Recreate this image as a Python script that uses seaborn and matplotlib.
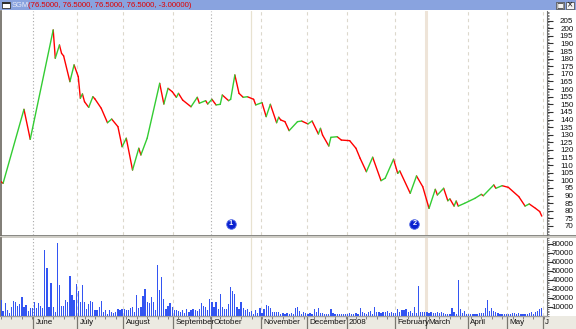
import numpy as np
import pandas as pd
import matplotlib
matplotlib.use("Agg")
import matplotlib.pyplot as plt
from matplotlib.patches import Rectangle
from matplotlib.ticker import MultipleLocator, NullLocator
import seaborn as sns

# ---------------- data ----------------
ticker = "SGM"
price_day = [0, 1, 11, 14, 25, 26, 28, 29, 30, 33, 35, 37, 38, 39, 40, 42, 44, 45, 48, 51,
             53, 56, 58, 60, 63, 66, 67, 70, 76, 78, 80, 82, 84, 85, 87, 91, 94, 95, 98, 99,
             101, 103, 105, 106, 109, 110, 112, 114, 116, 118, 121, 122, 125, 127, 129, 132,
             133, 134, 136, 138, 142, 144, 147, 149, 152, 153, 154, 157, 158, 161, 163, 167,
             170, 172, 175, 178, 182, 184, 188, 190, 191, 196, 199, 202, 205, 208, 209, 212,
             214, 215, 217, 218, 219, 222, 227, 230, 231, 236, 237, 240, 243, 248, 251, 253,
             256, 258, 259]
price_close = [99.1, 98.1, 146.7, 127.0, 198.9, 180.3, 189.0, 183.5, 181.8, 164.9, 175.9, 168.2,
               154.0, 156.8, 151.7, 148.0, 155.0, 153.5, 147.4, 137.9, 140.3, 135.3, 122.1, 127.7,
               106.8, 121.1, 116.7, 127.7, 163.8, 150.2, 160.5, 158.3, 154.6, 157.2, 152.8, 148.4,
               154.6, 150.7, 152.4, 150.2, 153.3, 149.6, 150.0, 156.1, 152.4, 153.3, 169.3, 157.2,
               154.6, 155.0, 153.3, 149.6, 151.1, 141.9, 150.0, 137.9, 141.5, 139.7, 138.6, 132.7,
               138.6, 139.0, 137.1, 139.0, 130.5, 134.2, 129.8, 122.6, 128.3, 128.7, 126.5, 126.1,
               121.1, 114.5, 105.7, 115.2, 99.8, 101.4, 113.9, 104.6, 106.2, 91.5, 102.9, 95.8,
               81.6, 94.1, 90.4, 94.8, 86.6, 87.8, 83.1, 86.4, 83.1, 84.9, 88.2, 90.8, 89.9, 97.0,
               94.8, 96.5, 95.4, 89.3, 83.1, 84.5, 81.6, 79.5, 76.5]
volume = [17700, 5500, 14700, 6600, 2900, 9600, 16600, 15800, 11000, 13300,
          21400, 9600, 12200, 5900, 9200, 9200, 15800, 8500, 14000, 11000,
          8500, 72900, 52700, 9600, 36100, 9600, 4800, 80300, 34300, 11000,
          11000, 17700, 15800, 44200, 23200, 17700, 35400, 28000, 15800, 34300,
          15800, 7700, 13300, 16600, 15800, 6600, 6600, 10300, 16600, 4800,
          6600, 2200, 6600, 4800, 2900, 4800, 7700, 6600, 7700, 7700,
          6600, 6600, 8500, 9600, 4800, 23200, 8500, 9600, 22100, 29500,
          15800, 14000, 21400, 15800, 6600, 56300, 28700, 43500, 18400, 7700,
          11000, 14700, 10300, 6600, 6600, 5900, 4800, 6600, 2900, 7400,
          4800, 6600, 7700, 6600, 5900, 7400, 14700, 11000, 9600, 6600,
          18400, 15100, 10300, 15100, 7400, 24300, 9600, 7700, 7400, 13300,
          31700, 27600, 24300, 9600, 7700, 15800, 8500, 6600, 7400, 4800,
          5500, 2200, 6600, 3000, 8500, 3000, 7400, 12200, 11000, 9200,
          4800, 4800, 4800,
          4800, 2200, 2900, 2200, 2900, 2200, 2900, 2200, 8500, 9600,
          5900, 2200, 4800, 2900, 2200, 3700, 2200, 7700, 4800, 9200,
          2900, 3700, 2200, 2200, 2200, 7700, 2900, 2200, 2200, 2200,
          2200, 2200, 2200, 2200, 2900, 2200, 2200, 2900, 2200, 8500,
          4000, 2900, 2200, 4800, 5500, 2200, 9600, 4800, 4000, 3700,
          4800, 4000, 5500, 3700, 4800, 3700, 2900, 7400, 4000, 6600,
          6600, 7700, 4800, 5500, 3700, 10300, 2900, 33100, 4800, 4800,
          4800, 4800, 2900, 4800, 2900, 3700, 4800, 2900, 4800, 2900,
          2200, 2200, 2200, 8500, 4800, 2200, 39800, 7700, 2900, 5500,
          2200, 2200, 2200, 2200, 2200, 2200, 2900, 3700, 2900, 9200,
          17700, 5500, 9200, 5500, 4800, 2900, 2200, 2200, 2200, 2200,
          2200, 2200, 2900, 2900, 2200, 2900, 2200, 2200, 2200, 2200,
          2900, 4800, 2200, 4000, 5500, 7400, 9200]
month_start_day = [16, 37, 59, 83, 101, 125, 147, 166, 189, 204, 224, 243, 260]
month_labels = ["June", "July", "August", "September", "October", "November", "December",
                "2008", "February", "March", "April", "May", "J"]
price_ticks = list(range(70, 206, 5))
volume_ticks = list(range(10000, 80001, 10000))
event_day = [110, 198]
event_label = ["1", "2"]
marker_line_day = [119.5, 203.5]
last_change = -3.0

# ---------------- figure ----------------
sns.set_style("white")
plt.rcParams["font.family"] = ["Liberation Sans", "DejaVu Sans"]

W, H = 576, 329
fig = plt.figure(figsize=(W / 100, H / 100), dpi=100)
fig.patch.set_facecolor("white")


def frect(x0, top, x1, bottom):
    return [x0 / W, 1 - bottom / H, (x1 - x0) / W, (bottom - top) / H]


ax_t = fig.add_axes(frect(0, 0, W, 10))
ax_p = fig.add_axes(frect(1, 11, 547, 235))
ax_v = fig.add_axes(frect(1, 238, 547, 316))

# bottom strip + separator band
fig.patches.append(Rectangle((0, 0), 1, 13 / H, transform=fig.transFigure,
                             facecolor="#eceae2", edgecolor="none", zorder=-5))
fig.patches.append(Rectangle((0, 1 - 238 / H), 1, 3 / H, transform=fig.transFigure,
                             facecolor="#cfcdc6", edgecolor="none", zorder=-5))
fig.patches.append(Rectangle((0, 1 - 235.6 / H), 1, 1.0 / H, transform=fig.transFigure,
                             facecolor="#8a8a86", edgecolor="none", zorder=-4))

xmin, xmax = 0, 261.5

# ---------------- price panel ----------------
rows = []
for i in range(len(price_day) - 1):
    d = "up" if price_close[i + 1] >= price_close[i] else "down"
    rows.append((i, price_day[i], price_close[i], d))
    rows.append((i, price_day[i + 1], price_close[i + 1], d))
seg = pd.DataFrame(rows, columns=["seg", "day", "price", "dir"])
sns.lineplot(data=seg, x="day", y="price", hue="dir", units="seg", estimator=None,
             palette={"up": "#33cc33", "down": "#ff0000"}, linewidth=1.0,
             legend=False, sort=False, ax=ax_p, zorder=5)

for k, m in enumerate(month_start_day):
    if k in (0, 4):
        ax_p.axvline(m - 0.5, color="#a8a8a8", lw=0.8, ls=(0, (1, 2)), zorder=1)
    else:
        ax_p.axvline(m - 0.5, color="#dcd8cc", lw=0.8, ls=(0, (3, 3)), zorder=1)
ax_p.axvline(marker_line_day[0], color="#e8e2d0", lw=0.9, zorder=1)
ax_p.axvline(marker_line_day[1], color="#eee4d8", lw=2.2, zorder=1)

ax_p.scatter(event_day, [0.05] * len(event_day), transform=ax_p.get_xaxis_transform(),
             s=48, color="#0a22d0", edgecolor="#5a70e8", linewidth=0.6, zorder=6)
for d, lab in zip(event_day, event_label):
    ax_p.text(d, 0.05, lab, transform=ax_p.get_xaxis_transform(), color="white",
              fontsize=5.2, fontweight="bold", ha="center", va="center", zorder=7)

ax_p.set_xlim(xmin, xmax)
ax_p.set_ylim(64.08, 211.35)
ax_p.yaxis.tick_right()
ax_p.set_yticks(price_ticks, labels=[str(v) for v in price_ticks], ha="right")
ax_p.yaxis.set_minor_locator(MultipleLocator(1))
ax_p.tick_params(axis="y", which="major", length=4, width=0.8, color="#303030",
                 labelsize=5.8, pad=15, labelcolor="#111111", right=True, left=False)
ax_p.tick_params(axis="y", which="minor", length=1.6, width=0.5, color="#505050",
                 right=True, left=False)
ax_p.xaxis.set_major_locator(NullLocator())
ax_p.set_xlabel("")
ax_p.set_ylabel("")
for s in ("top", "bottom"):
    ax_p.spines[s].set_visible(False)
ax_p.spines["left"].set_color("#6a665e")
ax_p.spines["left"].set_linewidth(1.2)
ax_p.spines["right"].set_color("#707070")
ax_p.spines["right"].set_linewidth(0.8)

# ---------------- volume panel ----------------
vol_day = np.arange(len(volume))
sns.barplot(x=vol_day, y=volume, native_scale=True, color="#3355f2", width=0.6,
            saturation=1, errorbar=None, linewidth=0, ax=ax_v, zorder=4)

for k, m in enumerate(month_start_day):
    if k in (0, 4):
        ax_v.axvline(m - 0.5, color="#a8a8a8", lw=0.8, ls=(0, (1, 2)), zorder=1)
    else:
        ax_v.axvline(m - 0.5, color="#dcd8cc", lw=0.8, ls=(0, (3, 3)), zorder=1)
    ax_v.vlines(m - 0.5, -13 / 78, 0, transform=ax_v.get_xaxis_transform(),
                color="#7a7870", lw=0.9, clip_on=False)
    ax_v.text(m - 0.5 + 1.2, -0.085, month_labels[k], transform=ax_v.get_xaxis_transform(),
              fontsize=5.8, color="#111111", ha="left", va="center", clip_on=False)
ax_v.axvline(marker_line_day[0], color="#e8e2d0", lw=0.9, zorder=1)
ax_v.axvline(marker_line_day[1], color="#eee4d8", lw=2.2, zorder=1)

ax_v.set_xlim(xmin, xmax)
ax_v.set_ylim(0, 86200)
ax_v.yaxis.tick_right()
ax_v.set_yticks(volume_ticks, labels=[str(v) for v in volume_ticks], ha="right")
ax_v.yaxis.set_minor_locator(MultipleLocator(2000))
ax_v.tick_params(axis="y", which="major", length=4, width=0.8, color="#303030",
                 labelsize=5.8, pad=15, labelcolor="#111111", right=True, left=False)
ax_v.tick_params(axis="y", which="minor", length=1.6, width=0.5, color="#505050",
                 right=True, left=False)
ax_v.xaxis.set_major_locator(NullLocator())
ax_v.xaxis.set_minor_locator(MultipleLocator(5))
ax_v.tick_params(axis="x", which="minor", length=1.8, width=0.6, color="#707070",
                 bottom=True, direction="out")
ax_v.set_xlabel("")
ax_v.set_ylabel("")
ax_v.spines["top"].set_visible(False)
ax_v.spines["left"].set_color("#6a665e")
ax_v.spines["left"].set_linewidth(1.2)
ax_v.spines["right"].set_color("#707070")
ax_v.spines["right"].set_linewidth(0.8)
ax_v.spines["bottom"].set_color("#a0a0a0")
ax_v.spines["bottom"].set_linewidth(1.0)

# ---------------- title bar ----------------
ax_t.set_xlim(0, W)
ax_t.set_ylim(10, 0)
ax_t.set_facecolor("#89a3df")
ax_t.set_xticks([])
ax_t.set_yticks([])
for s in ax_t.spines.values():
    s.set_visible(False)
ax_t.add_patch(Rectangle((1.5, 2), 8, 6, facecolor="white", edgecolor="#303030", lw=0.6))
ax_t.add_patch(Rectangle((1.5, 2), 8, 1.6, facecolor="#303030", edgecolor="none"))
close = price_close[-1]
ax_t.text(11.5, 5.2, ticker, color="#e8ecf8", fontsize=5.4, va="center", ha="left")
ax_t.text(28.5, 5.2, f"({close:.4f}, {close:.4f}, {close:.4f}, {close:.4f}, {last_change:.5f})",
          color="#e00000", fontsize=5.6, va="center", ha="left")
for bx, sym in ((556, "\u25a1"), (566, "\u00d7")):
    ax_t.add_patch(Rectangle((bx, 1.5), 8, 7, facecolor="#f4f4f4", edgecolor="#404040", lw=0.5))
    ax_t.text(bx + 4, 5.2, sym, color="#111111", fontsize=5.5, ha="center", va="center",
              family="DejaVu Sans")

fig.savefig("out.png", dpi=100)
